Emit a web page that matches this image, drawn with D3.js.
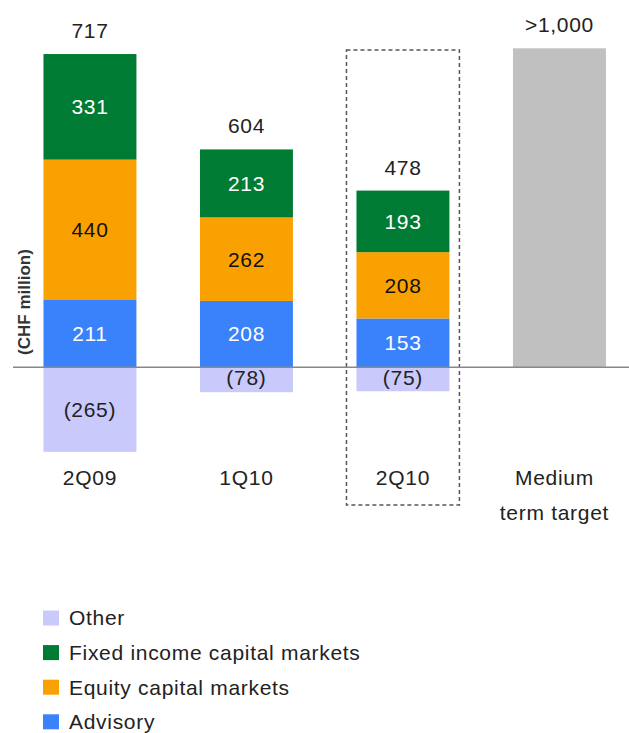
<!DOCTYPE html>
<html><head><meta charset="utf-8">
<script src="https://cdn.jsdelivr.net/npm/d3@7"></script>
<style>body{margin:0;background:#fff;} text{font-family:"Liberation Sans",Arial,sans-serif;}</style>
</head><body>
<svg id="c" width="629" height="733"></svg>
<script>
const categories = ["2Q09", "1Q10", "2Q10", "Medium term target"];
const advisory = [211, 208, 153, null];
const equity = [440, 262, 208, null];
const fixedIncome = [331, 213, 193, null];
const other = [-265, -78, -75, null];
const totals = ["717", "604", "478", ">1,000"];
const targetValue = [null, null, null, 1000];
const seriesNames = ["Other", "Fixed income capital markets", "Equity capital markets", "Advisory"];
const colors = {Other:"#c9c9fb", "Fixed income capital markets":"#007b34", "Equity capital markets":"#f9a100", Advisory:"#3a82fb", target:"#c0c0c0"};

const svg = d3.select("#c");
const x = d3.scaleBand().domain(categories).range([11.7, 637.7]).paddingInner(0.406).paddingOuter(0.203);
const y = d3.scaleLinear().domain([0, 1000]).range([367.3, 48.3]);
const fs = 21, ls = 0.7;
function txt(sel){ return sel.append("text").attr("font-size",fs).attr("letter-spacing",ls).attr("fill","#222"); }

const stackRows = categories.map((c,i)=>({cat:c, Advisory:advisory[i]||0, "Equity capital markets":equity[i]||0, "Fixed income capital markets":fixedIncome[i]||0}));
const keys = ["Advisory","Equity capital markets","Fixed income capital markets"];
const stacked = d3.stack().keys(keys)(stackRows);

// dashed highlight box for 2Q10
const hx = x("2Q10");
svg.append("rect").attr("x", hx-10).attr("y", 50).attr("width", x.bandwidth()+20).attr("height", 455)
  .attr("fill","none").attr("stroke","#555").attr("stroke-width",1.5).attr("stroke-dasharray","4,3");

stacked.forEach(s=>{
  s.forEach((d,i)=>{
    if (d.data[s.key]===0) return;
    svg.append("rect").attr("x", x(categories[i])).attr("width", x.bandwidth())
      .attr("y", y(d[1])).attr("height", y(d[0])-y(d[1])).attr("fill", colors[s.key]);
    txt(svg).attr("x", x(categories[i])+x.bandwidth()/2).attr("y", (y(d[0])+y(d[1]))/2)
      .attr("dy","0.35em").attr("text-anchor","middle")
      .attr("fill", s.key==="Equity capital markets" ? "#111" : "#fff").text(d.data[s.key]);
  });
});

other.forEach((v,i)=>{
  if (v==null) return;
  svg.append("rect").attr("x", x(categories[i])).attr("width", x.bandwidth())
    .attr("y", y(0)).attr("height", y(v)-y(0)).attr("fill", colors.Other);
  const big = Math.abs(v) > 150;
  txt(svg).attr("x", x(categories[i])+x.bandwidth()/2)
    .attr("y", big ? (y(0)+y(v))/2 : y(0)+10).attr("dy","0.35em").attr("text-anchor","middle")
    .text("("+Math.abs(v)+")");
});

targetValue.forEach((v,i)=>{
  if (v==null) return;
  svg.append("rect").attr("x", x(categories[i])).attr("width", x.bandwidth())
    .attr("y", y(v)).attr("height", y(0)-y(v)).attr("fill", colors.target);
});

categories.forEach((c,i)=>{
  const top = targetValue[i]!=null ? targetValue[i] : (advisory[i]+equity[i]+fixedIncome[i]);
  txt(svg).attr("x", x(c)+x.bandwidth()/2).attr("y", y(top)-16).attr("text-anchor","middle").text(totals[i]);
});

svg.append("line").attr("x1",13).attr("x2",629).attr("y1",y(0)).attr("y2",y(0)).attr("stroke","#888").attr("stroke-width",1.5);

categories.forEach((c,i)=>{
  const cx = x(c)+x.bandwidth()/2;
  if (c==="Medium term target") {
    txt(svg).attr("x",cx-5).attr("y",485).attr("text-anchor","middle").text("Medium");
    txt(svg).attr("x",cx-5).attr("y",520).attr("text-anchor","middle").text("term target");
  } else {
    txt(svg).attr("x",cx).attr("y",485).attr("text-anchor","middle").text(c);
  }
});

svg.append("text").attr("transform","translate(30,302) rotate(-90)").attr("text-anchor","middle")
  .attr("font-size",17).attr("font-weight","bold").attr("fill","#333").text("(CHF million)");

const lg = svg.append("g");
seriesNames.forEach((n,i)=>{
  const cy = 618 + i*34.6;
  lg.append("rect").attr("x",43).attr("y",cy-7.5).attr("width",16).attr("height",15).attr("fill",colors[n]);
  txt(lg).attr("x",69).attr("y",cy).attr("dy","0.35em").text(n);
});
</script>
</body></html>
